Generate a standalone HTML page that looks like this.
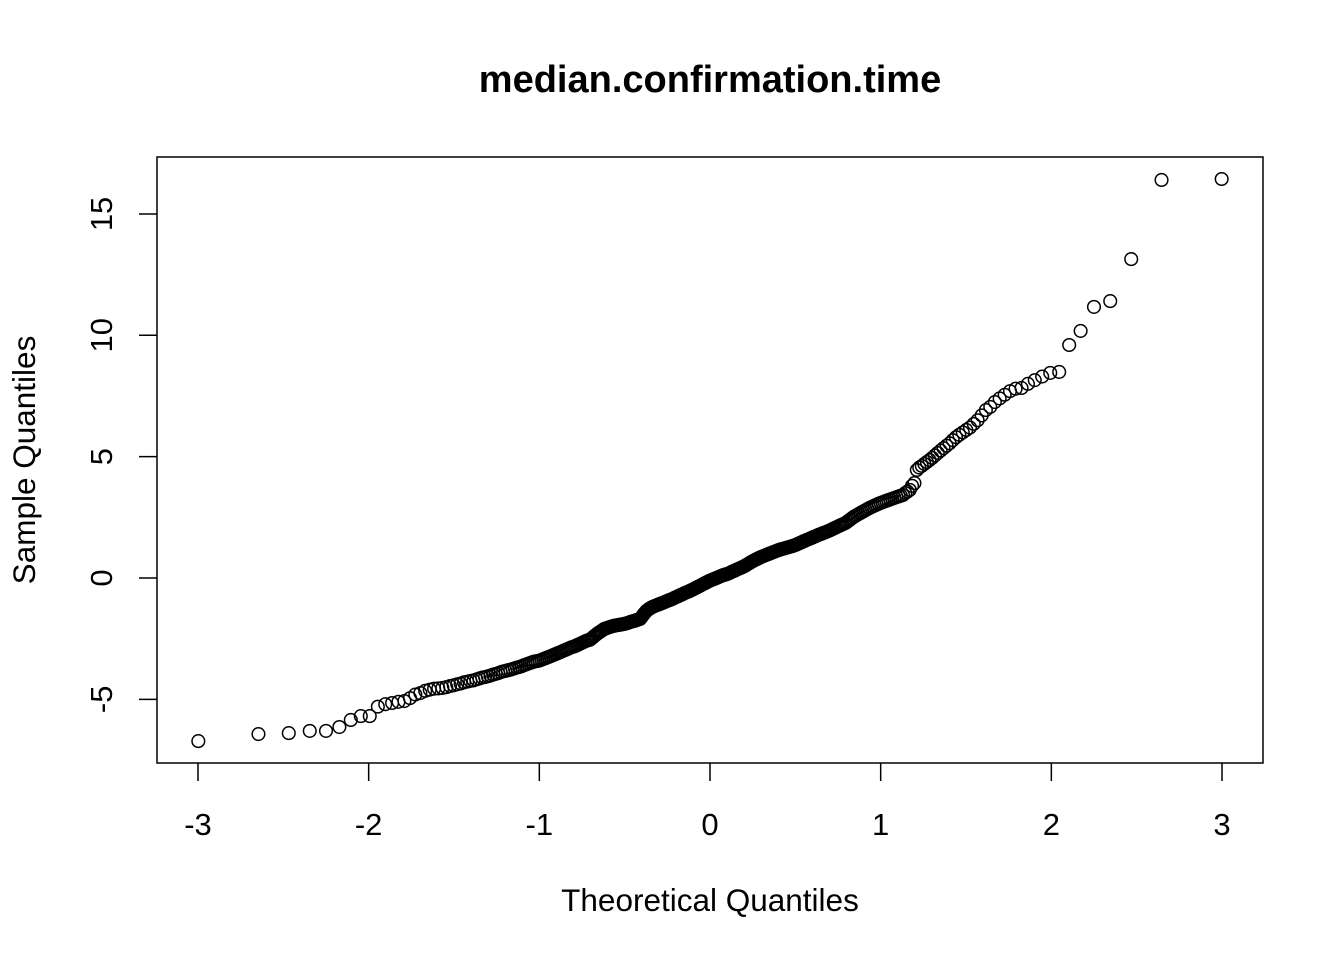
<!DOCTYPE html>
<html><head><meta charset="utf-8"><style>
html,body{margin:0;padding:0;background:#fff;}
svg{display:block;font-family:"Liberation Sans",Arial,sans-serif;}
</style></head><body>
<svg id="chart" width="1344" height="960" viewBox="0 0 1344 960">
<text x="710" y="92" text-anchor="middle" font-size="38" font-weight="bold">median.confirmation.time</text>
<rect x="157" y="157" width="1106" height="606" fill="none" stroke="#000" stroke-width="1.5"/>
<text x="710" y="911" text-anchor="middle" font-size="31.5">Theoretical Quantiles</text>
<text transform="translate(35,460) rotate(-90)" text-anchor="middle" font-size="31.5">Sample Quantiles</text>
<g id="axes"></g>
<g id="points"></g>
</svg>
<script>
const xTicks = [-3,-2,-1,0,1,2,3];
const yTicks = [-5,0,5,10,15];
const sampleValues = [
-6.72,-6.43,-6.39,-6.30,-6.30,-6.14,-5.85,-5.69,
-5.69,-5.30,-5.20,-5.15,-5.10,-5.07,-4.95,-4.80,-4.74,-4.65,-4.60,-4.56,-4.55,-4.53,-4.50,-4.45,
-4.42,-4.38,-4.35,-4.30,-4.27,-4.24,-4.22,-4.18,-4.14,-4.10,-4.08,-4.05,-4.02,-3.98,-3.95,-3.92,-3.88,-3.85,-3.83,-3.80,-3.78,-3.75,-3.72,-3.69,-3.67,-3.64,-3.60,-3.57,-3.54,-3.51,-3.48,-3.45,-3.43,-3.42,
-3.40,-3.37,-3.34,-3.31,-3.28,-3.25,-3.22,-3.19,-3.16,-3.13,
-3.10,-3.07,-3.04,-3.01,-2.98,-2.95,-2.92,-2.89,-2.86,-2.84,
-2.82,-2.79,-2.76,-2.73,-2.70,-2.67,-2.64,-2.61,-2.58,-2.56,-2.55,
-2.50,-2.45,-2.40,-2.35,-2.30,-2.26,-2.22,-2.18,-2.14,-2.10,-2.08,-2.06,
-2.04,-2.02,-2.00,-1.99,-1.97,-1.96,-1.95,-1.94,-1.93,-1.92,-1.91,-1.90,
-1.89,-1.87,-1.86,-1.84,-1.82,-1.80,-1.79,-1.77,-1.76,-1.74,-1.72,-1.70,-1.69,
-1.62,-1.55,-1.48,-1.42,-1.36,-1.32,-1.28,-1.25,-1.22,-1.19,-1.17,-1.15,-1.13,-1.11,
-1.09,-1.07,-1.05,-1.03,-1.01,-0.99,-0.97,-0.95,-0.93,-0.91,-0.89,-0.87,-0.85,-0.82,
-0.80,-0.78,-0.76,-0.73,-0.71,-0.69,-0.67,-0.64,-0.62,-0.60,-0.58,-0.56,-0.54,-0.51,-0.49,
-0.47,-0.44,-0.42,-0.39,-0.37,-0.34,-0.32,-0.29,-0.27,-0.24,-0.22,-0.19,-0.17,-0.14,-0.12,
-0.10,-0.08,-0.06,-0.04,-0.02,0.00,0.02,0.04,0.06,0.08,0.10,0.12,0.13,0.15,0.16,
0.18,0.20,0.22,0.25,0.27,0.29,0.31,0.34,0.36,0.38,0.40,0.42,0.44,0.47,0.49,
0.52,0.55,0.58,0.61,0.64,0.67,0.70,0.72,0.75,0.77,0.80,0.82,0.85,0.87,
0.89,0.91,0.93,0.95,0.97,0.99,1.01,1.03,1.05,1.07,1.09,1.11,1.13,1.15,
1.17,1.18,1.20,1.21,1.23,1.24,1.26,1.27,1.29,1.30,1.32,1.34,1.36,
1.38,1.41,1.43,1.46,1.48,1.51,1.53,1.56,1.58,1.60,1.63,1.65,
1.68,1.70,1.73,1.75,1.78,1.80,1.82,1.85,1.87,1.89,1.92,1.94,
1.97,2.00,2.03,2.06,2.09,2.12,2.15,2.18,2.21,2.24,2.27,
2.32,2.37,2.42,2.47,2.52,2.56,2.60,2.64,2.68,2.72,
2.76,2.80,2.84,2.88,2.92,2.95,2.99,3.02,3.06,3.09,
3.12,3.15,3.18,3.21,3.24,3.27,3.30,3.33,3.36,3.39,3.42,
3.50,3.56,3.63,3.80,3.91,4.45,4.55,4.62,4.70,4.78,4.86,
4.95,5.05,5.15,5.25,5.35,5.45,5.55,5.68,5.80,5.90,6.00,6.10,
6.20,6.35,6.50,6.70,6.92,7.05,7.25,7.40,7.55,7.70,7.80,7.83,8.00,8.15,8.30,8.45,
8.49,9.60,10.18,11.17,11.41,13.14,16.40,16.44
];
const NS="http://www.w3.org/2000/svg";
function xs(v){return 710 + v*170.67;}
function ys(v){return 578 - v*24.27;}
function qnorm(p){
  const a=[-3.969683028665376e+01,2.209460984245205e+02,-2.759285104469687e+02,1.383577518672690e+02,-3.066479806614716e+01,2.506628277459239e+00];
  const b=[-5.447609879822406e+01,1.615858368580409e+02,-1.556989798598866e+02,6.680131188771972e+01,-1.328068155288572e+01];
  const c=[-7.784894002430293e-03,-3.223964580411365e-01,-2.400758277161838e+00,-2.549732539343734e+00,4.374664141464968e+00,2.938163982698783e+00];
  const d=[7.784695709041462e-03,3.224671290700398e-01,2.445134137142996e+00,3.754408661907416e+00];
  const pl=0.02425;let q,r;
  if(p<pl){q=Math.sqrt(-2*Math.log(p));return (((((c[0]*q+c[1])*q+c[2])*q+c[3])*q+c[4])*q+c[5])/((((d[0]*q+d[1])*q+d[2])*q+d[3])*q+1);}
  if(p>1-pl){q=Math.sqrt(-2*Math.log(1-p));return -(((((c[0]*q+c[1])*q+c[2])*q+c[3])*q+c[4])*q+c[5])/((((d[0]*q+d[1])*q+d[2])*q+d[3])*q+1);}
  q=p-0.5;r=q*q;return (((((a[0]*r+a[1])*r+a[2])*r+a[3])*r+a[4])*r+a[5])*q/(((((b[0]*r+b[1])*r+b[2])*r+b[3])*r+b[4])*r+1);
}
const axes=document.getElementById('axes');
function mk(tag,attrs){const e=document.createElementNS(NS,tag);for(const k in attrs)e.setAttribute(k,attrs[k]);return e;}
xTicks.forEach(t=>{
  const l=mk('line',{x1:xs(t),x2:xs(t),y1:763,y2:781,stroke:'#000','stroke-width':1.5});
  
  
  axes.appendChild(l);
  const tx=mk('text',{x:xs(t),y:835,'text-anchor':'middle','font-size':31});
  
  
  tx.textContent=String(t);axes.appendChild(tx);
});
yTicks.forEach(t=>{
  const l=mk('line',{x1:139,x2:157,y1:ys(t),y2:ys(t),stroke:'#000','stroke-width':1.5});
  
  
  axes.appendChild(l);
  const tx=mk('text',{transform:`translate(112,${ys(t)}) rotate(-90)`,'text-anchor':'middle','font-size':31});
  
  
  tx.textContent=String(t);axes.appendChild(tx);
});
const pts=document.getElementById('points');
const sorted=sampleValues.slice().sort((a,b)=>a-b);
const n=sorted.length;
sorted.forEach((v,i)=>{
  const q=qnorm((i+1-0.5)/n);
  const c=mk('circle',{cx:xs(q),cy:ys(v),r:6.3,fill:'none',stroke:'#000','stroke-width':1.5});
  
  
  pts.appendChild(c);
});
</script>
</body></html>
